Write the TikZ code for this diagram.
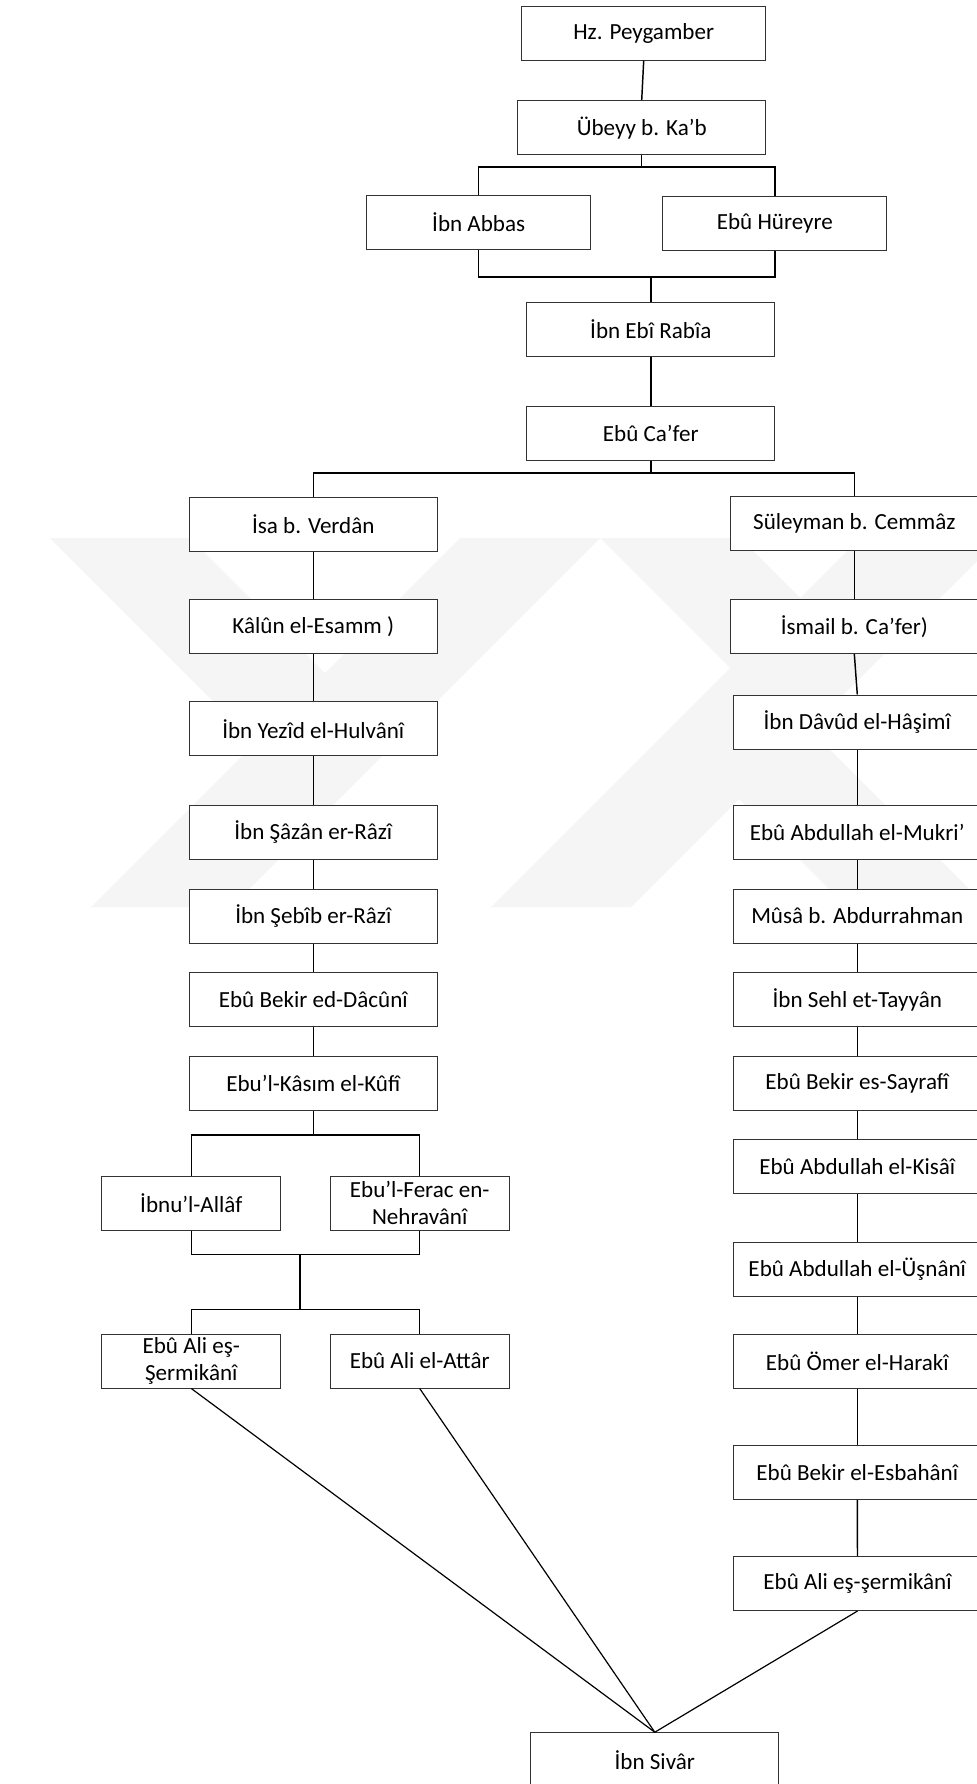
\documentclass[tikz,border=0pt]{standalone}
\usepackage{fontspec}
\setmainfont{Carlito}
\begin{document}
\begin{tikzpicture}[x=0.75pt,y=-0.75pt,
  box/.style={draw=black!80, line width=0.75pt, rectangle, inner sep=0pt,
    minimum height=40.5pt, align=center, fill=white,
    font=\fontsize{17.3}{20.5}\selectfont},
  wide/.style={box, minimum width=186pt},
  mid/.style={box, minimum width=168pt},
  narrow/.style={box, minimum width=134pt},
  conn/.style={draw=black, line width=1.1pt},
  wm/.style={fill=black!4, draw=none}]
\useasboundingbox (0,0) rectangle (977,1784);
\clip (0,0) rectangle (977,1784);
\fill[white] (0,0) rectangle (977,1784);

% faint watermark
\fill[wm] (460,538) -- (600,538) -- (231,907) -- (91,907) -- cycle;
\fill[wm] (50,538) -- (190,538) -- (330,678) -- (260,748) -- cycle;
\fill[wm] (860,538) -- (1000,538) -- (631,907) -- (491,907) -- cycle;
\fill[wm] (600,538) -- (740,538) -- (800,598) -- (730,668) -- cycle;
\fill[wm] (687,747) -- (757,677) -- (987,907) -- (847,907) -- cycle;

% top part
\node[box, minimum width=183pt] (hz) at (643.7,33.2) {Hz. Peygamber};
\node[wide] (ubeyy) at (641.7,127.7) {Übeyy b. Ka’b};
\node[mid] (abbas) at (478.7,222.2) {İbn Abbas};
\node[mid] (hureyre) at (774.8,223) {Ebû Hüreyre};
\node[wide] (rabia) at (650.8,329.5) {İbn Ebî Rabîa};
\node[wide] (cafer) at (650.8,433.7) {Ebû Ca’fer};

% left column
\node[wide] (isa) at (313.3,524.5) {İsa b. Verdân};
\node[wide] (kalun) at (313.3,626.5) {Kâlûn el-Esamm )};
\node[wide] (yezid) at (313.3,728.7) {İbn Yezîd el-Hulvânî};
\node[wide] (sazan) at (313.3,832) {İbn Şâzân er-Râzî};
\node[wide] (sebib) at (313.3,916) {İbn Şebîb er-Râzî};
\node[wide] (dacuni) at (313.3,999.5) {Ebû Bekir ed-Dâcûnî};
\node[wide] (kasim) at (313.3,1083) {Ebu’l-Kâsım el-Kûfî};
\node[narrow] (allaf) at (191.3,1203) {İbnu’l-Allâf};
\node[narrow] (ferac) at (419.7,1203) {Ebu’l-Ferac en-\\Nehravânî};
\node[narrow] (serma) at (191.3,1361) {Ebû Ali eş-\\Şermikânî};
\node[narrow] (attar) at (419.7,1361) {Ebû Ali el-Attâr};

% right column
\node[wide] (suleyman) at (854.3,523) {Süleyman b. Cemmâz};
\node[wide] (ismail) at (854.3,626.3) {İsmail b. Ca’fer)};
\node[wide] (davud) at (857.3,722) {İbn Dâvûd el-Hâşimî};
\node[wide] (mukri) at (857.3,832) {Ebû Abdullah el-Mukri’};
\node[wide] (musa) at (857.3,916) {Mûsâ b. Abdurrahman};
\node[wide] (sehl) at (857.3,999.7) {İbn Sehl et-Tayyân};
\node[wide] (sayrafi) at (857.3,1083) {Ebû Bekir es-Sayrafî};
\node[wide] (kisai) at (857.3,1166.7) {Ebû Abdullah el-Kisâî};
\node[wide] (usnani) at (857.3,1269.3) {Ebû Abdullah el-Üşnânî};
\node[wide] (omer) at (857.3,1361.3) {Ebû Ömer el-Harakî};
\node[wide] (esbahani) at (857.3,1472.3) {Ebû Bekir el-Esbahânî};
\node[wide] (sermb) at (857.5,1583.5) {Ebû Ali eş-şermikânî};

% bottom
\node[wide] (sivar) at (654.8,1759.7) {İbn Sivâr};

% junction coordinates
\coordinate (j1) at (641.7,167);
\coordinate (j2) at (650.8,277);
\coordinate (j3) at (650.8,473);
\coordinate (j4) at (313.3,1135);
\coordinate (j5) at (300,1254.3);
\coordinate (j6) at (300,1309.3);

% connectors
\draw[conn] (hz.south) -- (ubeyy.north);
\draw[conn] (ubeyy.south) -- (j1);
\draw[conn] (abbas.north) |- (j1) -| (hureyre.north);
\draw[conn] (abbas.south) |- (j2) -| (hureyre.south);
\draw[conn] (j2) -- (rabia.north);
\draw[conn] (rabia.south) -- (cafer.north);
\draw[conn] (cafer.south) -- (j3);
\draw[conn] (isa.north) |- (j3) -| (suleyman.north);

\draw[conn] (isa.south) -- (kalun.north);
\draw[conn] (kalun.south) -- (yezid.north);
\draw[conn] (yezid.south) -- (sazan.north);
\draw[conn] (sazan.south) -- (sebib.north);
\draw[conn] (sebib.south) -- (dacuni.north);
\draw[conn] (dacuni.south) -- (kasim.north);
\draw[conn] (kasim.south) -- (j4);
\draw[conn] (allaf.north) |- (j4) -| (ferac.north);
\draw[conn] (allaf.south) |- (j5) -| (ferac.south);
\draw[conn] (j5) -- (j6);
\draw[conn] (serma.north) |- (j6) -| (attar.north);

\draw[conn] (suleyman.south) -- (ismail.north);
\draw[conn] (ismail.south) -- (davud.north);
\draw[conn] (davud.south) -- (mukri.north);
\draw[conn] (mukri.south) -- (musa.north);
\draw[conn] (musa.south) -- (sehl.north);
\draw[conn] (sehl.south) -- (sayrafi.north);
\draw[conn] (sayrafi.south) -- (kisai.north);
\draw[conn] (kisai.south) -- (usnani.north);
\draw[conn] (usnani.south) -- (omer.north);
\draw[conn] (omer.south) -- (esbahani.north);
\draw[conn] (esbahani.south) -- (sermb.north);

\draw[conn, line width=0.9pt] (serma.south) -- (sivar.north);
\draw[conn, line width=0.9pt] (attar.south) -- (sivar.north);
\draw[conn, line width=0.9pt] (sermb.south) -- (sivar.north);
\end{tikzpicture}
\end{document}
